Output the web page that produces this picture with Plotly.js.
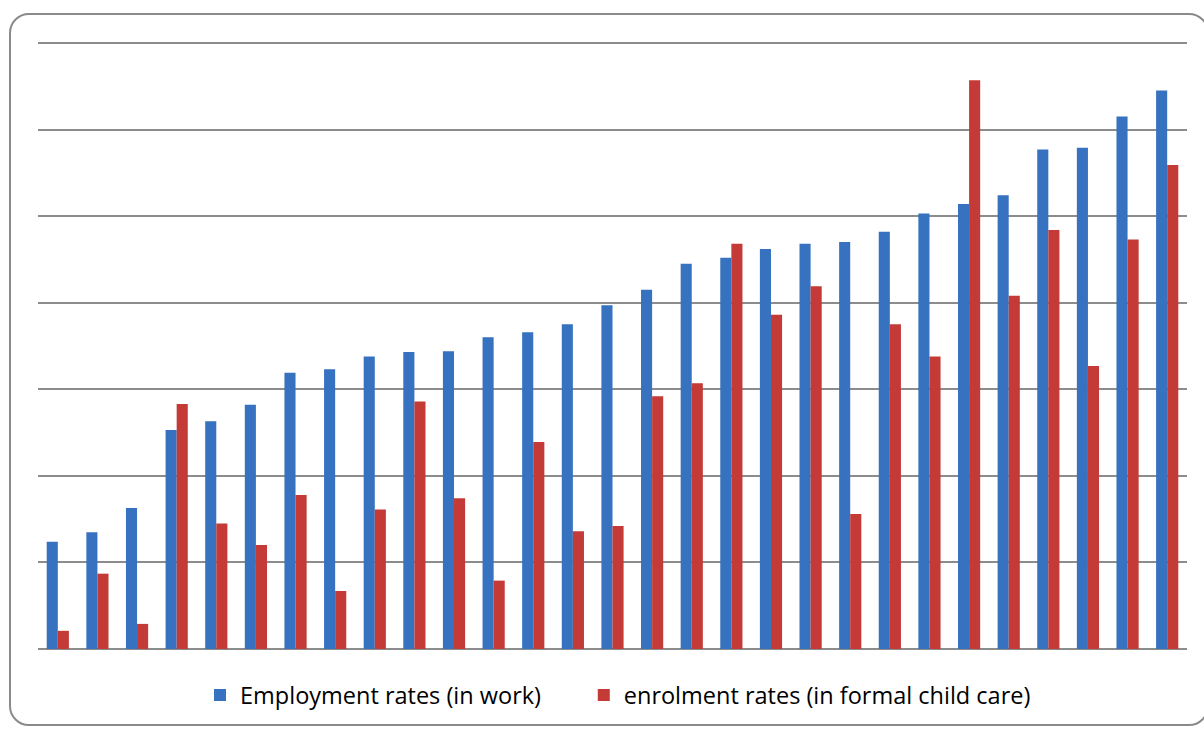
<!DOCTYPE html>
<html>
<head>
<meta charset="utf-8">
<script src="https://cdn.plot.ly/plotly-3.0.1.min.js"></script>
<style>
  html, body { margin: 0; padding: 0; background: #fff; overflow: hidden; }
  #wrap { position: relative; width: 1204px; height: 729px; }
  #chart { position: absolute; left: 0; top: 0; width: 1204px; height: 729px; }
  #frame { position: absolute; left: 9px; top: 13px; width: 1200px; height: 713px;
           border: 2px solid #8a8a8a; border-radius: 20px; pointer-events: none; box-sizing: border-box; }
</style>
</head>
<body>
<div id="wrap">
  <div id="chart"></div>
  <div id="frame"></div>
</div>
<script>
const categories = ['1','2','3','4','5','6','7','8','9','10','11','12','13','14','15',
                    '16','17','18','19','20','21','22','23','24','25','26','27','28','29'];
const employmentRates = [12.4, 13.5, 16.3, 25.3, 26.3, 28.2, 31.9, 32.3, 33.8, 34.3,
                         34.4, 36.0, 36.6, 37.5, 39.7, 41.5, 44.5, 45.2, 46.2, 46.8,
                         47.0, 48.2, 50.3, 51.4, 52.4, 57.7, 57.9, 61.5, 64.5];
const enrolmentRates = [2.1, 8.7, 2.9, 28.3, 14.5, 12.0, 17.8, 6.7, 16.1, 28.6,
                        17.4, 7.9, 23.9, 13.6, 14.2, 29.2, 30.7, 46.8, 38.6, 41.9,
                        15.6, 37.5, 33.8, 65.7, 40.8, 48.4, 32.7, 47.3, 55.9];
const seriesNames = ['Employment rates (in work)', 'enrolment rates (in formal child care)'];

const traces = [
  { type: 'bar', x: categories, y: employmentRates, name: seriesNames[0],
    marker: { color: '#3672bf' }, legend: 'legend' },
  { type: 'bar', x: categories, y: enrolmentRates, name: seriesNames[1],
    marker: { color: '#c33a37' }, legend: 'legend2' }
];

const legendFont = { family: 'Open Sans, sans-serif', size: 23.5, color: '#000' };

const layout = {
  width: 1204, height: 729,
  margin: { l: 38, r: 17, t: 41, b: 80 },
  paper_bgcolor: '#ffffff', plot_bgcolor: '#ffffff',
  barmode: 'group', bargap: 0.44, bargroupgap: 0,
  showlegend: true,
  legend: { orientation: 'h', x: 0.141, xanchor: 'left', y: -0.04, yanchor: 'top',
            font: legendFont, itemwidth: 30 },
  legend2: { orientation: 'h', x: 0.475, xanchor: 'left', y: -0.04, yanchor: 'top',
             font: legendFont, itemwidth: 30 },
  xaxis: { type: 'category', showticklabels: false, showgrid: false, zeroline: false,
           showline: false, ticks: '' },
  yaxis: { range: [0, 70.23], tickvals: [10, 20, 30, 40, 50, 60, 70], showticklabels: false, showgrid: true,
           gridcolor: '#8c8c8c', gridwidth: 2, zeroline: true, zerolinecolor: '#8c8c8c',
           zerolinewidth: 2, showline: false, ticks: '' }
};

Plotly.newPlot('chart', traces, layout, { displayModeBar: false, staticPlot: true });
</script>
</body>
</html>
